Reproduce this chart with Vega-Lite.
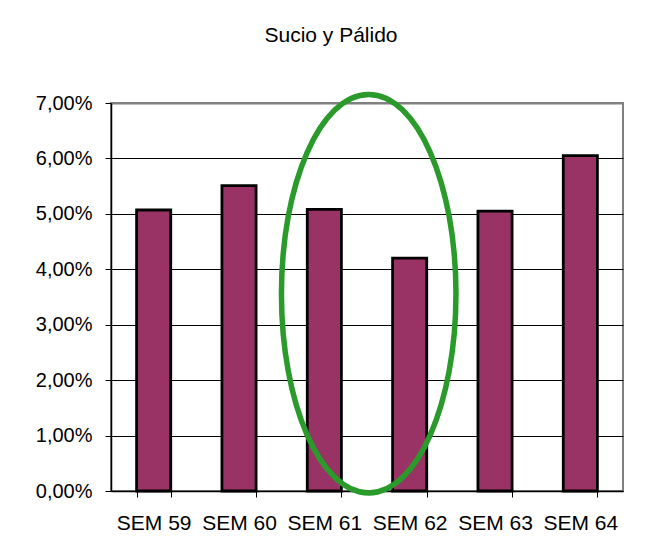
{
  "$schema": "https://vega.github.io/schema/vega-lite/v6.json",
  "autosize": "none",
  "width": 512,
  "height": 388,
  "padding": {"left": 111, "top": 103, "right": 39, "bottom": 62},
  "background": "white",
  "title": {
    "text": "Sucio y Pálido",
    "font": "Liberation Sans",
    "fontSize": 21,
    "fontWeight": "normal",
    "color": "black",
    "anchor": "middle",
    "dx": -36,
    "baseline": "alphabetic",
    "offset": 20
  },
  "config": {
    "view": {"stroke": "#808080", "strokeWidth": 2},
    "font": "Liberation Sans"
  },
  "layer": [
    {
      "data": {
        "values": [
          {"semana": "SEM 59", "valor": 0.0507},
          {"semana": "SEM 60", "valor": 0.0551},
          {"semana": "SEM 61", "valor": 0.0508},
          {"semana": "SEM 62", "valor": 0.0420},
          {"semana": "SEM 63", "valor": 0.0505},
          {"semana": "SEM 64", "valor": 0.0605}
        ]
      },
      "mark": {"type": "bar", "color": "#993366", "stroke": "black", "strokeWidth": 2.8},
      "encoding": {
        "x": {
          "field": "semana",
          "type": "nominal",
          "sort": null,
          "scale": {"paddingInner": 0.6, "paddingOuter": 0.3},
          "axis": {
            "title": null,
            "labelAngle": 0,
            "labelFont": "Liberation Sans",
            "labelFontSize": 21,
            "labelColor": "black",
            "labelBaseline": "alphabetic",
            "labelPadding": 32,
            "tickBand": "extent",
            "tickColor": "black",
            "tickSize": 6,
            "domainColor": "black",
            "domainWidth": 1.5,
            "grid": false
          }
        },
        "y": {
          "field": "valor",
          "type": "quantitative",
          "scale": {"domain": [0, 0.07], "nice": false},
          "axis": {
            "title": null,
            "values": [0, 0.01, 0.02, 0.03, 0.04, 0.05, 0.06, 0.07],
            "labelExpr": "replace(format(datum.value, '.2%'), '.', ',')",
            "labelFont": "Liberation Sans",
            "labelFontSize": 20,
            "labelColor": "black",
            "labelPadding": 13,
            "tickColor": "black",
            "tickSize": 6,
            "domainColor": "black",
            "domainWidth": 1.5,
            "grid": true,
            "gridColor": {"condition": {"test": "datum.value >= 0.07", "value": "#808080"}, "value": "black"},
            "gridWidth": {"condition": {"test": "datum.value >= 0.07", "value": 2}, "value": 1},
            "gridOpacity": 1
          }
        }
      }
    },
    {
      "data": {"values": [{"posicion": 3.02, "valor": 0.0356}]},
      "mark": {
        "type": "point",
        "shape": "M -0.438 0 A 0.438 1 0 1 0 0.438 0 A 0.438 1 0 1 0 -0.438 0 Z",
        "size": 158800,
        "filled": false,
        "stroke": "#2a9a2a",
        "strokeWidth": 5.5,
        "opacity": 1,
        "clip": false
      },
      "encoding": {
        "x": {"field": "posicion", "type": "quantitative", "scale": {"domain": [0, 6], "nice": false, "zero": false}, "axis": null},
        "y": {"field": "valor", "type": "quantitative"}
      }
    }
  ],
  "resolve": {"scale": {"x": "independent"}}
}
